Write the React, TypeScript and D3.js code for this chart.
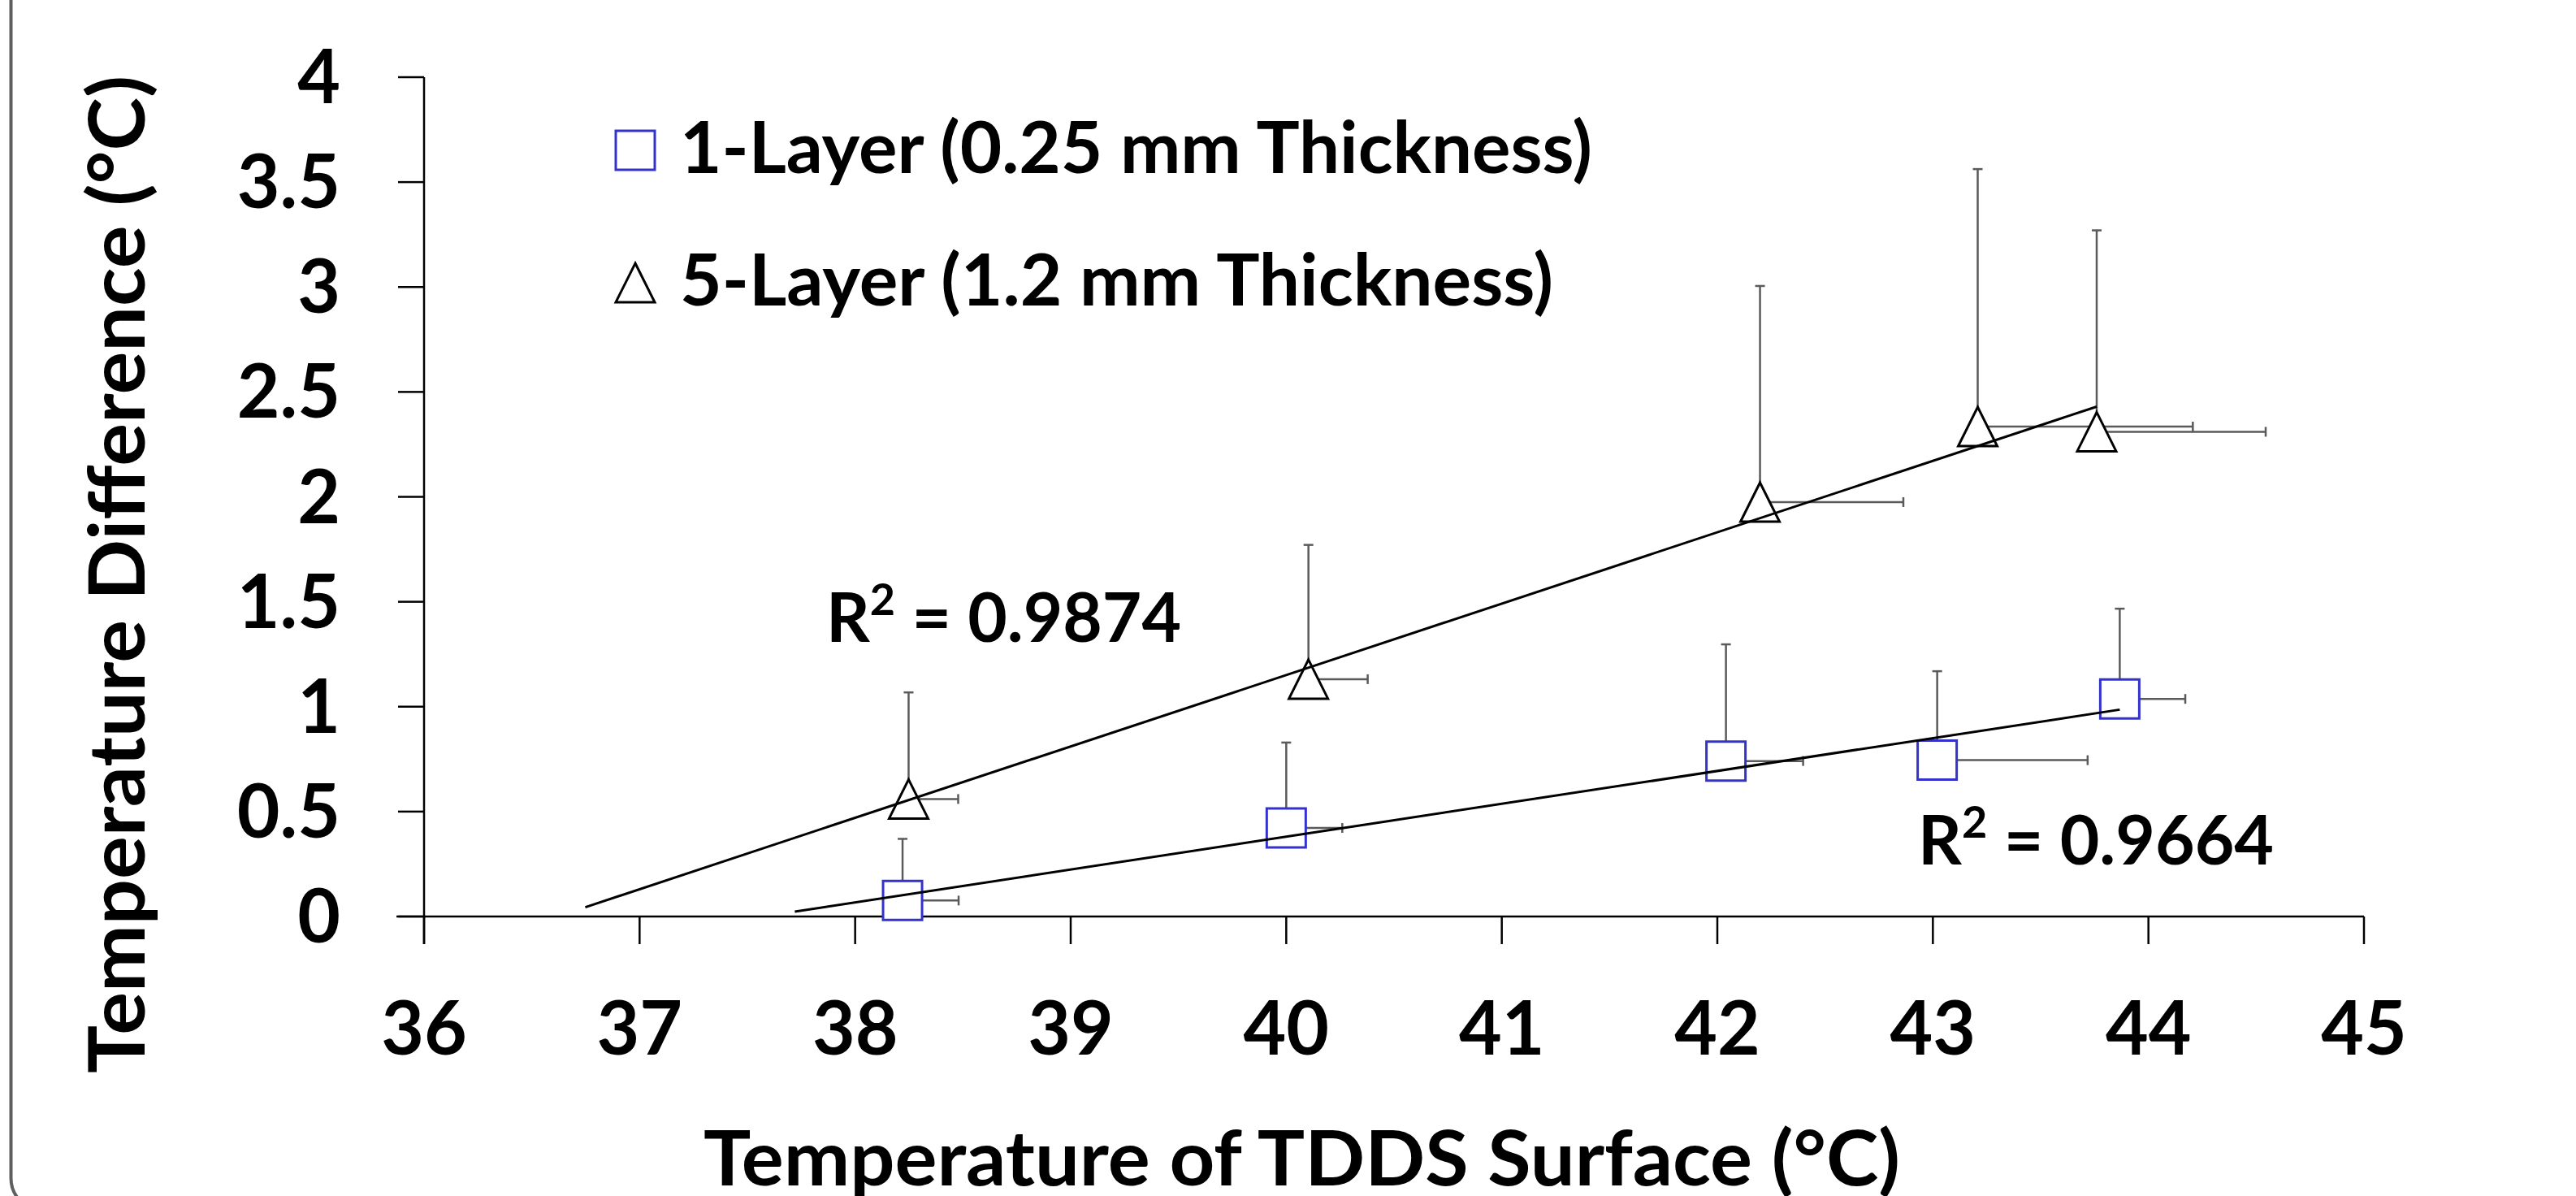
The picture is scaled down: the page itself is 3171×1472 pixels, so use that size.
import React, { useEffect } from "react";
import * as d3 from "d3";

// ---------- data ----------
const xTicks = [36, 37, 38, 39, 40, 41, 42, 43, 44, 45];
const yTicks = [0, 0.5, 1, 1.5, 2, 2.5, 3, 3.5, 4];
const yTickLabels = ["0", "0.5", "1", "1.5", "2", "2.5", "3", "3.5", "4"];

// 1-Layer (0.25 mm Thickness)
const oneLayerX = [38.22, 40.0, 42.04, 43.02, 43.867];
const oneLayerY = [0.076, 0.422, 0.741, 0.745, 1.037];
const oneLayerXErr = [0.26, 0.26, 0.358, 0.698, 0.304];
const oneLayerYErr = [0.294, 0.407, 0.556, 0.424, 0.43];

// 5-Layer (1.2 mm Thickness)
const fiveLayerX = [38.248, 40.103, 42.198, 43.208, 43.76];
const fiveLayerY = [0.56, 1.131, 1.975, 2.335, 2.31];
const fiveLayerXErr = [0.23, 0.275, 0.665, 0.998, 0.784];
const fiveLayerYErr = [0.508, 0.64, 1.03, 1.227, 0.96];

// trend-line backward forecast (x units)
const trendBackward = [0.5, 1.5];

const legendLabels = ["1-Layer (0.25 mm Thickness)", "5-Layer (1.2 mm Thickness)"];
const r2Values = ["0.9664", "0.9874"];
const xTitle = "Temperature of TDDS Surface (°C)";
const yTitle = "Temperature Difference (°C)";

// ---------- layout ----------
const W = 3171;
const H = 1472;
const FONT = "Lato, 'Open Sans', sans-serif";
const BLUE = "#3333cc";
const ERR = "#5a5a5a";

const x = d3.scaleLinear().domain([36, 45]).range([522, 2910]);
const y = d3.scaleLinear().domain([0, 4]).range([1128, 95]);

function regression(xs: number[], ys: number[]) {
  const mx = d3.mean(xs) as number;
  const my = d3.mean(ys) as number;
  let sxy = 0;
  let sxx = 0;
  xs.forEach((v, i) => {
    sxy += (v - mx) * (ys[i] - my);
    sxx += (v - mx) * (v - mx);
  });
  const slope = sxy / sxx;
  const intercept = my - slope * mx;
  return (v: number) => slope * v + intercept;
}

const MS = 24; // marker half size
const CAP = 6;

function ErrorBars({ xs, ys, xe, ye }: { xs: number[]; ys: number[]; xe: number[]; ye: number[] }) {
  return (
    <g stroke={ERR} strokeWidth={2.5} fill="none">
      {xs.map((v, i) => {
        const cx = x(v);
        const cy = y(ys[i]);
        const ty = y(ys[i] + ye[i]);
        const rx = x(v + xe[i]);
        return (
          <g key={i}>
            <line x1={cx} y1={cy} x2={cx} y2={ty} />
            <line x1={cx - CAP} y1={ty} x2={cx + CAP} y2={ty} />
            <line x1={cx} y1={cy} x2={rx} y2={cy} />
            <line x1={rx} y1={cy - CAP} x2={rx} y2={cy + CAP} />
          </g>
        );
      })}
    </g>
  );
}

function squarePath(cx: number, cy: number) {
  return `M${cx - MS},${cy - MS}H${cx + MS}V${cy + MS}H${cx - MS}Z`;
}
function trianglePath(cx: number, cy: number) {
  return `M${cx},${cy - MS}L${cx + MS},${cy + MS}L${cx - MS},${cy + MS}Z`;
}

function Trend({ xs, ys, back }: { xs: number[]; ys: number[]; back: number }) {
  const f = regression(xs, ys);
  const x0 = (d3.min(xs) as number) - back;
  const x1 = d3.max(xs) as number;
  const line = d3
    .line<number>()
    .x((v) => x(v))
    .y((v) => y(f(v)));
  return <path d={line([x0, x1]) as string} stroke="#000" strokeWidth={3} fill="none" />;
}

function R2Label({ value, tx, ty, len }: { value: string; tx: number; ty: number; len: number }) {
  return (
    <text
      x={tx}
      y={ty}
      fontFamily={FONT}
      fontWeight={700}
      fontSize={84}
      textLength={len}
      lengthAdjust="spacingAndGlyphs"
      fill="#000"
    >
      R
      <tspan fontSize={54} dy={-33}>
        2
      </tspan>
      <tspan dy={33}>{" = " + value}</tspan>
    </text>
  );
}

export default function App() {
  useEffect(() => {
    document.body.style.margin = "0";
    document.body.style.overflow = "hidden";
  }, []);

  return (
    <svg width={W} height={H} viewBox={`0 0 ${W} ${H}`} style={{ display: "block", background: "#fff" }}>
      <rect x={0} y={0} width={W} height={H} fill="#fff" />
      {/* outer frame (left edge of a rounded border) */}
      <rect x={13.5} y={-60} width={W + 100} height={1550} rx={40} ry={40} fill="none" stroke="#5f5f5f" strokeWidth={4} />

      {/* axes */}
      <g stroke="#000" strokeWidth={2.5}>
        <line x1={x(36)} y1={y(4)} x2={x(36)} y2={y(0) + 34} />
        <line x1={x(36) - 34} y1={y(0)} x2={x(45)} y2={y(0)} />
        {yTicks.map((t) => (
          <line key={"yt" + t} x1={x(36) - 32} y1={y(t)} x2={x(36)} y2={y(t)} />
        ))}
        {xTicks.map((t) => (
          <line key={"xt" + t} x1={x(t)} y1={y(0)} x2={x(t)} y2={y(0) + 34} />
        ))}
      </g>
      <g fontFamily={FONT} fontWeight={700} fontSize={91} fill="#000">
        {yTicks.map((t, i) => (
          <text key={"yl" + t} x={419} y={y(t) + 32} textAnchor="end">
            {yTickLabels[i]}
          </text>
        ))}
        {xTicks.map((t) => (
          <text key={"xl" + t} x={x(t)} y={1298} textAnchor="middle">
            {String(t)}
          </text>
        ))}
      </g>

      {/* titles */}
      <text
        x={866}
        y={1459}
        fontFamily={FONT}
        fontWeight={700}
        fontSize={93}
        textLength={1473}
        lengthAdjust="spacingAndGlyphs"
      >
        {xTitle}
      </text>
      <text
        transform="translate(178,1321) rotate(-90)"
        fontFamily={FONT}
        fontWeight={700}
        fontSize={95}
        textLength={1228}
        lengthAdjust="spacingAndGlyphs"
      >
        {yTitle}
      </text>

      {/* error bars */}
      <ErrorBars xs={oneLayerX} ys={oneLayerY} xe={oneLayerXErr} ye={oneLayerYErr} />
      <ErrorBars xs={fiveLayerX} ys={fiveLayerY} xe={fiveLayerXErr} ye={fiveLayerYErr} />

      {/* markers */}
      <g fill="#fff" stroke={BLUE} strokeWidth={3}>
        {oneLayerX.map((v, i) => (
          <path key={"s" + i} d={squarePath(x(v), y(oneLayerY[i]))} />
        ))}
      </g>
      <g fill="#fff" stroke="#000" strokeWidth={3}>
        {fiveLayerX.map((v, i) => (
          <path key={"t" + i} d={trianglePath(x(v), y(fiveLayerY[i]))} />
        ))}
      </g>

      {/* trend lines */}
      <Trend xs={oneLayerX} ys={oneLayerY} back={trendBackward[0]} />
      <Trend xs={fiveLayerX} ys={fiveLayerY} back={trendBackward[1]} />

      {/* R² labels */}
      <R2Label value={r2Values[1]} tx={1017} ty={790} len={437} />
      <R2Label value={r2Values[0]} tx={2361} ty={1064} len={438} />

      {/* legend */}
      <path d={squarePath(782, 185)} fill="#fff" stroke={BLUE} strokeWidth={3} />
      <path d={trianglePath(782, 348)} fill="#fff" stroke="#000" strokeWidth={3} />
      <g fontFamily={FONT} fontWeight={700} fontSize={88} fill="#000">
        <text x={837} y={213} textLength={1123} lengthAdjust="spacingAndGlyphs">
          {legendLabels[0]}
        </text>
        <text x={837} y={376} textLength={1075} lengthAdjust="spacingAndGlyphs">
          {legendLabels[1]}
        </text>
      </g>
    </svg>
  );
}
